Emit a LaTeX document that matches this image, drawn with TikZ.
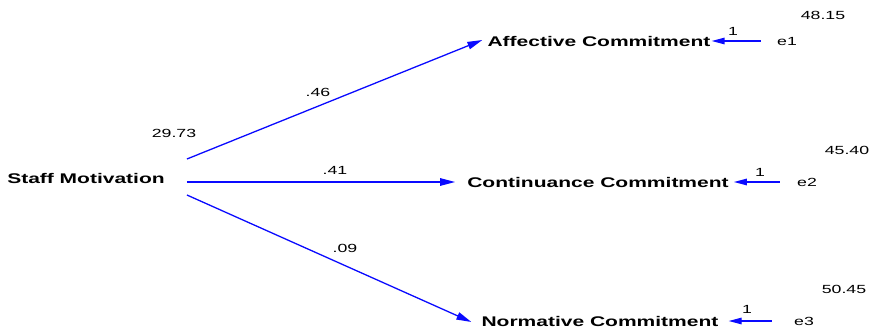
\documentclass[tikz,border=0pt]{standalone}
\usepackage{fontspec}
\setmainfont{Liberation Sans}[FakeStretch=1.5]
\usetikzlibrary{arrows.meta}
\definecolor{pathblue}{RGB}{10,10,255}
\tikzset{
  var/.style={inner sep=0pt, font=\fontsize{14}{16}\selectfont\bfseries},
  num/.style={inner sep=0pt, font=\fontsize{11.8}{14}\selectfont},
  coefarrow/.style={draw=pathblue, line width=1.3pt, -{Triangle[length=15pt,width=7.5pt]}},
  errarrow/.style={draw=pathblue, line width=1.3pt, -{Triangle[length=13pt,width=6.5pt]}}
}
\begin{document}
\begin{tikzpicture}[x=1pt,y=-1pt]
\useasboundingbox (0,0) rectangle (874,329);
% variables
\node[var] (SM) at (86,178) {Staff Motivation};
\node[var] (AC) at (599,41) {Affective Commitment};
\node[var] (CC) at (598,182) {Continuance Commitment};
\node[var] (NC) at (600,321) {Normative Commitment};
% errors
\node[num] (e1) at (787,41) {e1};
\node[num] (e2) at (807,182) {e2};
\node[num] (e3) at (804,321) {e3};
% paths
\draw[coefarrow] ([xshift=22pt,yshift=19pt]SM.east) -- ([xshift=-5pt,yshift=1pt]AC.west);
\draw[coefarrow] ([xshift=22pt]SM.east |- CC.west) -- ([xshift=-12pt]CC.west);
\draw[coefarrow] ([xshift=22pt,yshift=-17pt]SM.east) -- ([xshift=-10pt,yshift=-1pt]NC.west);
\draw[errarrow] ([xshift=-16pt]e1.west) -- ([xshift=1pt]AC.east |- e1.west);
\draw[errarrow] ([xshift=-17pt]e2.west) -- ([xshift=5pt]CC.east |- e2.west);
\draw[errarrow] ([xshift=-22pt]e3.west) -- ([xshift=10pt]NC.east |- e3.west);
% labels
\node[num] (l1) at (733,31) {1};
\node[num] (l2) at (760,172) {1};
\node[num] (l3) at (747,309) {1};
\node[num] (v1) at (823,15) {48.15};
\node[num] (v2) at (847,150) {45.40};
\node[num] (v3) at (844,289) {50.45};
\node[num] (vSM) at (174,133) {29.73};
\node[num] (c1) at (318,92) {.46};
\node[num] (c2) at (335,170) {.41};
\node[num] (c3) at (345,248) {.09};
\end{tikzpicture}
\end{document}
